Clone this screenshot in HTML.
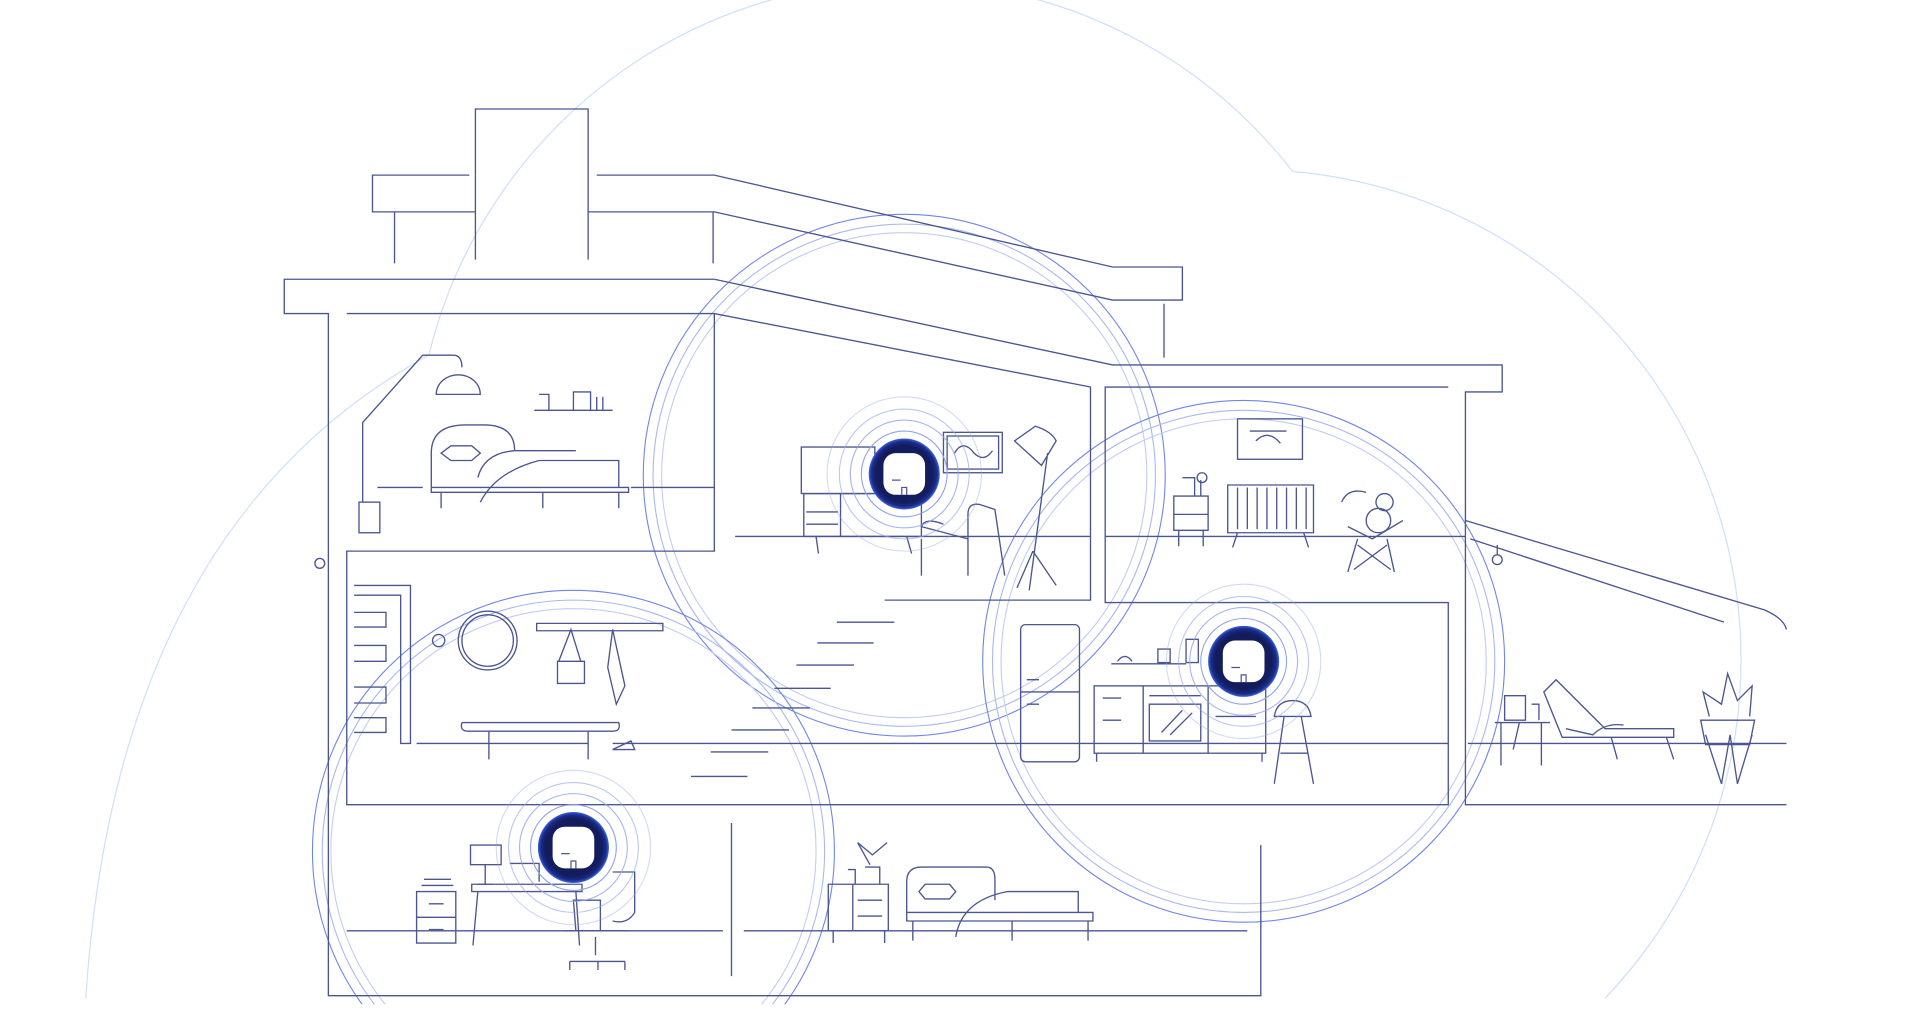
<!DOCTYPE html>
<html><head><meta charset="utf-8"><style>
html,body{margin:0;padding:0;background:#fff;width:1920px;height:1030px;overflow:hidden}
svg{display:block;position:absolute;left:0;top:0}
</style></head><body>
<svg width="1920" height="1030" viewBox="0 0 1567 841" preserveAspectRatio="none" xmlns="http://www.w3.org/2000/svg">
<defs>
<clipPath id="cl"><rect x="0" y="0" width="1567" height="820"/></clipPath>
<radialGradient id="glow" cx="50%" cy="50%" r="50%">
<stop offset="80%" stop-color="#131c5c"/><stop offset="92%" stop-color="#1a2c8a"/><stop offset="100%" stop-color="#3b63e0"/>
</radialGradient>
</defs>
<g clip-path="url(#cl)" fill="none">
<!-- cloud -->
<path d="M70 815 Q95 430 350 290 A400 400 0 0 1 1055 140 A400 400 0 0 1 1310 815" stroke="#cfe0fb" stroke-width="1"/>
<!-- big signal circles -->
<g stroke="#6f86e6" stroke-width="0.9">
<circle cx="738" cy="388" r="213"/><circle cx="738" cy="388" r="205" stroke="#a9b8f0"/><circle cx="738" cy="388" r="198" stroke="#c2ccf5"/>
<circle cx="1015" cy="540" r="213"/><circle cx="1015" cy="540" r="205" stroke="#a9b8f0"/><circle cx="1015" cy="540" r="198" stroke="#c2ccf5"/>
<circle cx="468" cy="695" r="213"/><circle cx="468" cy="695" r="205" stroke="#a9b8f0"/><circle cx="468" cy="695" r="198" stroke="#c2ccf5"/>
</g>
</g>
<!-- house -->
<g fill="none" stroke="#4b5690" stroke-width="1.1">
<path d="M388 143 V89 H480 V212"/><path d="M388 143 V212"/>
<path d="M383 143 H304 V173 H388 M480 173 H583 L908 245 H965 V218 H908 L583 143 H487"/>
<path d="M322 173 V215 M582 173 V215 M950 248 V292"/>
<path d="M583 228 H232 V256 H268 V813 H1029 V690"/>
<path d="M583 228 L908 298 H1226 V320 H1196 V657 H1458"/>
<path d="M283 256 H583 L890 316 V490 H722"/>
<path d="M583 256 V450 H283 V657 H1182 V492 H902 V316 H1182"/>
<path d="M600 438 H890 M902 438 H1196"/>
<path d="M308 398 H345 M515 398 H583"/>
<path d="M340 607 H480 M500 607 H1182 M1198 607 H1458"/>
<path d="M1196 425 L1440 498 Q1456 505 1458 514 M1200 440 L1407 508"/>
<path d="M597 672 V797 M283 760 H590 M607 760 H1018"/>
<path d="M683 508 H730 M667 525 H713 M650 543 H697 M632 562 H678 M614 578 H661 M597 596 H644 M580 614 H627 M564 634 H610"/>
<!-- upper-left bedroom -->
<path d="M296 410 V345 L345 290 H370 Q377 290 377 300"/><rect x="293" y="410" width="17" height="25"/>
<path d="M356 322 A18 16 0 0 1 392 322 Z"/>
<path d="M436 335 H500 M440 322 H448 V335 M468 320 H482 V335 H468 Z M487 324 V335 M492 324 V335"/>
<path d="M352 398 V370 Q352 347 380 347 H395 Q420 347 420 368 M352 398 H513 V402 H352 Z M360 402 V415 M505 402 V415 M443 402 V415"/>
<path d="M360 370 L368 364 H385 L392 370 L385 376 H368 Z M440 376 H505 V398 M390 390 Q395 370 420 368 H470 M392 410 Q405 385 440 376"/>
<!-- middle room -->
<rect x="654" y="365" width="60" height="38"/><path d="M656 403 H752 V438 H656 Z M686 403 V438 M658 418 H684 M658 428 H684 M666 438 L668 452 M740 438 L744 452"/>
<rect x="770" y="353" width="48" height="33"/><rect x="773" y="356" width="42" height="27"/><path d="M779 370 Q786 358 795 370 Q803 378 810 368"/>
<path d="M828 360 L845 348 Q858 352 862 360 L850 380 Z M855 370 L840 482 M843 450 L830 480 M843 450 L862 478"/>
<path d="M752 440 V470 M752 430 L790 440 V470 M790 440 V420 Q790 410 800 412 L812 416 L820 470 M752 430 Q755 422 770 428"/>
<!-- nursery -->
<rect x="1010" y="342" width="53" height="33"/><path d="M1020 352 H1050 M1025 360 Q1035 350 1045 362"/>
<path d="M958 405 H986 V433 H958 Z M962 433 V446 M982 433 V446 M958 420 H986 M965 390 H975 V405 M980 392 V405"/><circle cx="981" cy="390" r="4"/>
<path d="M1002 396 H1072 V435 H1002 Z M1010 398 V432 M1018 398 V432 M1026 398 V432 M1034 398 V432 M1042 398 V432 M1050 398 V432 M1058 398 V432 M1066 398 V432 M1010 435 L1006 447 M1064 435 L1068 447"/>
<circle cx="1130" cy="410" r="7"/><circle cx="1125" cy="425" r="10"/><path d="M1095 410 Q1100 398 1115 402 M1100 430 L1120 440 L1145 425 M1108 440 L1100 467 M1132 440 L1138 467 M1108 445 L1135 465 M1132 445 L1105 465"/>
<!-- hallway -->
<path d="M289 478 H335 V607 H327 V486 H289 M289 500 H315 V512 H289 M289 527 H315 V540 H289 M289 561 H315 V574 H289 M289 586 H315 V598 H289"/>
<circle cx="398" cy="523" r="24"/><circle cx="398" cy="523" r="21"/><circle cx="358" cy="523" r="5"/>
<path d="M438 509 H541 V515 H438 Z M466 514 L456 540 H474 Z M455 540 H477 V558 H455 Z M500 514 L496 545 L503 575 L510 560 Z"/>
<path d="M377 590 H505 Q507 597 500 597 H382 Q375 597 377 590 M399 597 V620 M480 597 V620 M500 612 L515 605 L518 612 Z"/>
<!-- kitchen -->
<rect x="833" y="510" width="48" height="112" rx="4"/><path d="M833 565 H881 M838 555 H848 M838 575 H848"/>
<path d="M907 542 H968 M912 540 Q918 532 924 540 M945 530 H955 V541 H945 Z M968 522 H978 V541 H968 Z"/>
<rect x="893" y="560" width="140" height="55"/><path d="M933 560 V615 M986 560 V615 M900 570 H915 M900 588 H915 M938 568 H980 M938 575 H980 V605 H938 Z M948 598 L965 580 M955 600 L973 582 M895 615 V622 M1030 615 V622 M992 585 H1025"/>
<path d="M1040 585 Q1042 572 1055 572 Q1068 572 1070 585 Z M1048 585 L1040 640 M1062 585 L1072 640 M1045 615 H1067"/>
<!-- patio -->
<path d="M1220 590 H1265 M1225 590 V625 M1258 590 V625 M1240 590 L1235 612 M1228 568 H1245 V588 H1228 Z M1250 575 H1256 V588"/>
<path d="M1260 565 L1270 555 L1310 595 H1366 V602 H1275 Z M1315 602 L1320 620 M1360 602 L1366 620 M1278 595 L1300 600 Q1310 590 1325 592"/>
<path d="M1388 588 H1432 L1428 608 H1392 Z M1392 600 L1405 640 L1412 600 L1418 640 L1430 600 M1395 585 L1390 565 L1405 575 L1410 550 L1418 572 L1430 560 L1428 585"/>
<circle cx="1222" cy="457" r="4"/><path d="M1222 445 V453"/>
<circle cx="261" cy="460" r="4"/>
<!-- office -->
<rect x="384" y="690" width="25" height="16"/><path d="M396 706 V722 M390 722 H402"/>
<path d="M385 722 H475 V728 H385 Z M390 728 L386 772 M470 728 L473 772 M416 705 H440 V720"/>
<path d="M340 728 H372 V770 H340 Z M340 749 H372 M350 738 H362 M350 759 H362 M344 723 H370 M346 718 H368"/>
<path d="M468 735 H490 V760 H470 Z M500 712 H518 V745 Q512 755 500 752 M460 760 H512 M486 765 V780 M465 785 H510 M465 785 V792 M488 785 V792 M510 785 V792"/>
<!-- bedroom basement -->
<path d="M676 722 H725 V760 H676 Z M696 722 V760 M700 735 H720 M700 748 H720 M680 760 V770 M722 760 V770 M706 708 H718 V722 M692 710 H698 V722 M710 706 L700 688 L712 698 L724 688"/>
<path d="M740 745 V720 Q740 708 752 708 H805 Q812 708 812 718 V735 M740 745 H892 V752 H740 Z M745 752 V768 M826 752 V768 M888 752 V768 M750 728 L755 722 H775 L780 728 L775 734 H755 Z M822 728 H880 V745 M780 765 Q785 735 822 728 H870"/>
</g>
<!-- small rings -->
<g fill="none" stroke="#8ea2ec" stroke-width="0.9">
<circle cx="738" cy="387" r="35"/><circle cx="738" cy="387" r="44" stroke-opacity=".8"/><circle cx="738" cy="387" r="53" stroke-opacity=".6"/><circle cx="738" cy="387" r="63" stroke-opacity=".4"/>
<circle cx="1015" cy="540" r="35"/><circle cx="1015" cy="540" r="44" stroke-opacity=".8"/><circle cx="1015" cy="540" r="53" stroke-opacity=".6"/><circle cx="1015" cy="540" r="63" stroke-opacity=".4"/>
<circle cx="468" cy="692" r="35"/><circle cx="468" cy="692" r="44" stroke-opacity=".8"/><circle cx="468" cy="692" r="53" stroke-opacity=".6"/><circle cx="468" cy="692" r="63" stroke-opacity=".4"/>
</g>
<!-- devices -->
<g>
<circle cx="738" cy="387" r="29" fill="url(#glow)"/><rect x="721" y="370" width="34" height="34" rx="10" fill="#fff"/><path d="M728 392 H735 M736 404 V398 H740 V404" stroke="#4b5690" fill="none"/>
<circle cx="1015" cy="540" r="29" fill="url(#glow)"/><rect x="998" y="523" width="34" height="34" rx="10" fill="#fff"/><path d="M1005 545 H1012 M1013 557 V551 H1017 V557" stroke="#4b5690" fill="none"/>
<circle cx="468" cy="692" r="29" fill="url(#glow)"/><rect x="451" y="675" width="34" height="34" rx="10" fill="#fff"/><path d="M458 697 H465 M466 709 V703 H470 V709" stroke="#4b5690" fill="none"/>
</g>
</svg>
</body></html>
